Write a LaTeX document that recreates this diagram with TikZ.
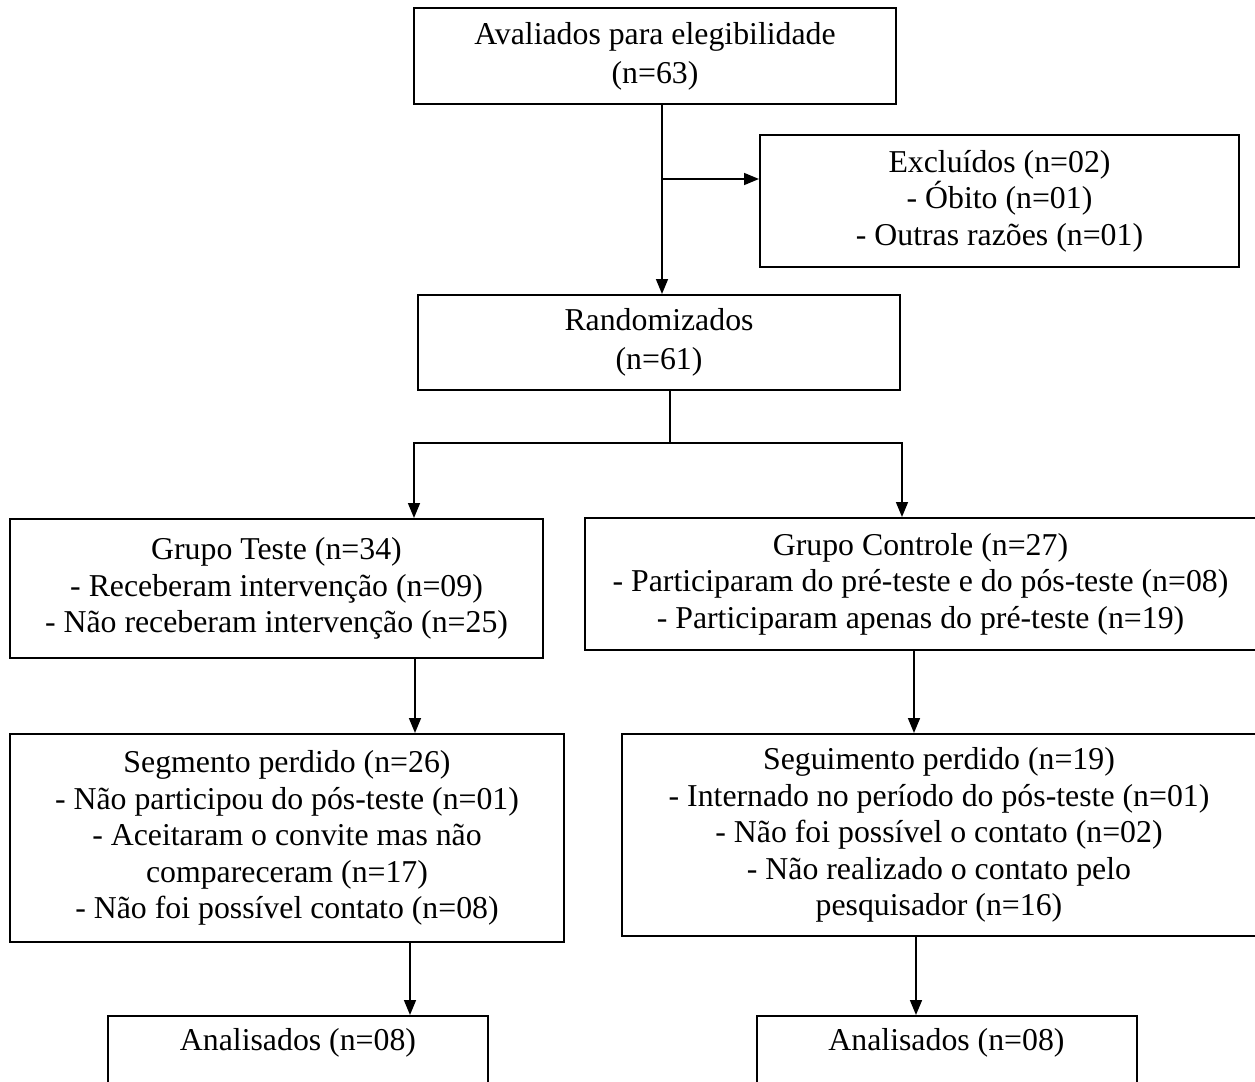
\documentclass[tikz,border=0pt]{standalone}
\usepackage{fontspec}
\setmainfont{Liberation Serif}
\usetikzlibrary{positioning,arrows.meta}

\begin{document}
\begin{tikzpicture}[>={Triangle[length=7.5pt,width=6pt]},line width=0.8pt]
\tikzstyle{caixa} = [rectangle,draw=black,fill=none,line width=1pt,align=center,inner sep=2pt,font=\fontsize{15.9}{18.3}\selectfont]
\tikzstyle{fim} = [caixa,minimum width=190pt,inner sep=0pt,text height=17pt,text depth=49pt]

\useasboundingbox (0,0) rectangle (627.5pt,-541pt);

\node[caixa](eleg) at (327.5pt,-28pt) [minimum width=241pt,minimum height=48pt]	{Avaliados para elegibilidade\\[1.2pt](n=63)};
\node[caixa](excl)[below right=14.5pt and -69pt of eleg][minimum width=239.5pt,minimum height=66pt]	{Excluídos (n=02)\\- Óbito (n=01)\\- Outras razões (n=01)};
\node[caixa](rand)[below=94.5pt of eleg,xshift=2pt][minimum width=241pt,minimum height=47.5pt]	{Randomizados\\[1.2pt](n=61)};
\node[caixa](teste)[below=63.5pt of rand,xshift=-191.25pt][minimum width=266.5pt,minimum height=69.5pt]	{Grupo Teste (n=34)\\- Receberam intervenção (n=09)\\- Não receberam intervenção (n=25)};
\node[caixa](ctrl)[right=20pt of teste,yshift=2.25pt][minimum width=335.5pt,minimum height=66pt]	{Grupo Controle (n=27)\\- Participaram do pré-teste e do pós-teste (n=08)\\- Participaram apenas do pré-teste (n=19)};
\node[caixa](segm)[below=37pt of teste,xshift=5.25pt][minimum width=277pt,minimum height=104pt]	{Segmento perdido (n=26)\\- Não participou do pós-teste (n=01)\\- Aceitaram o convite mas não\\compareceram (n=17)\\- Não foi possível contato (n=08)};
\node[caixa](segu)[right=28pt of segm,yshift=1.5pt][minimum width=317pt,minimum height=101pt]	{Seguimento perdido (n=19)\\- Internado no período do pós-teste (n=01)\\- Não foi possível o contato (n=02)\\- Não realizado o contato pelo\\pesquisador (n=16)};
\node[fim](anal1)[below=36pt of segm,xshift=5.5pt]	{Analisados (n=08)};
\node[fim](anal2)[below=39pt of segu,xshift=3.75pt]	{Analisados (n=08)};

\coordinate (ramo) at ([xshift=3.5pt,yshift=-37pt]eleg.south);
\coordinate (divide) at ([xshift=5.5pt,yshift=-26pt]rand.south);

\draw [->] ([xshift=3.5pt]eleg.south) -- ([xshift=3.5pt]eleg.south |- rand.north);
\draw [->] (ramo) -- (ramo -| excl.west);

\draw [-] (rand.south -| divide) -- (divide);
\draw [->] (divide) -| ([xshift=68.75pt]teste.north);
\draw [->] (divide) -| ([xshift=-9.25pt]ctrl.north);

\draw [->] ([xshift=69.25pt]teste.south) -- ([xshift=69.25pt]teste.south |- segm.north);
\draw [->] ([xshift=-3.25pt]ctrl.south) -- ([xshift=-3.25pt]ctrl.south |- segu.north);
\draw [->] ([xshift=61.5pt]segm.south) -- ([xshift=61.5pt]segm.south |- anal1.north);
\draw [->] ([xshift=-11.5pt]segu.south) -- ([xshift=-11.5pt]segu.south |- anal2.north);

\end{tikzpicture}
\end{document}
